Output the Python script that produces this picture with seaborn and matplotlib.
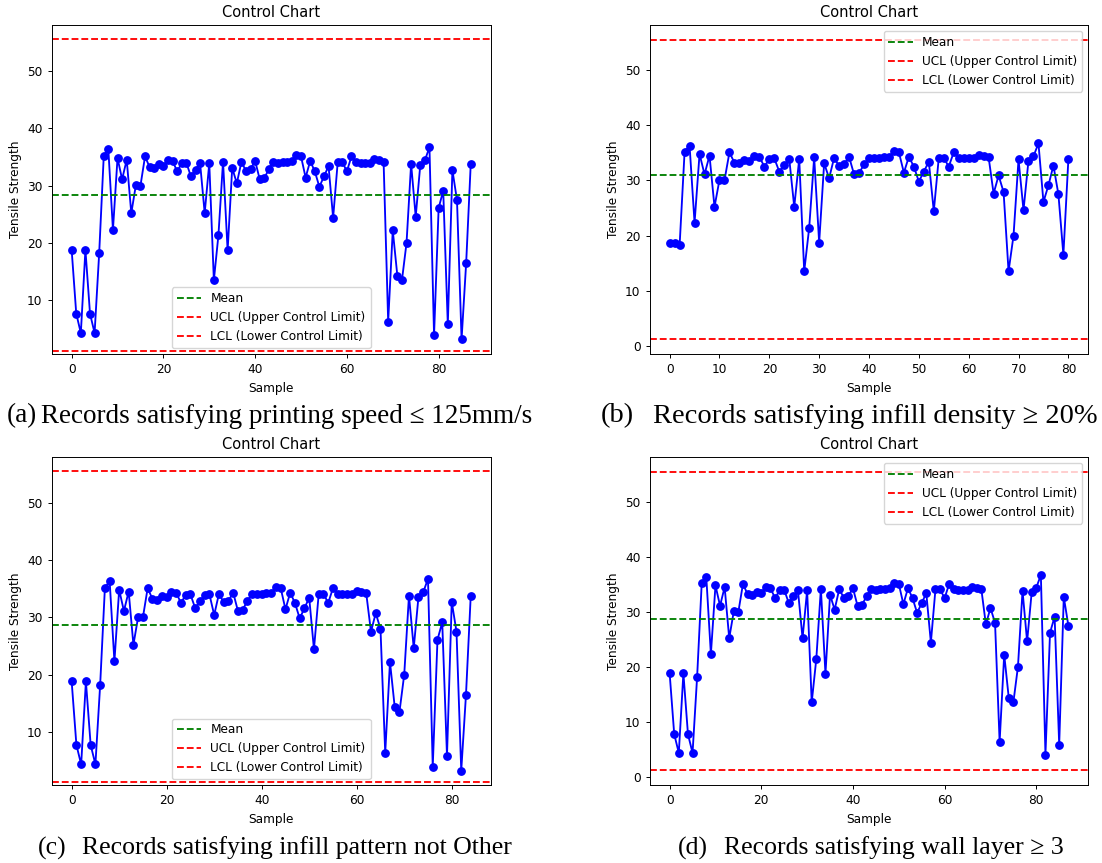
import numpy as np
import pandas as pd
import matplotlib
matplotlib.use("Agg")
import matplotlib.pyplot as plt
import seaborn as sns

# ---------------- data ----------------
strength_a = [18.8, 7.7, 4.3, 18.8, 7.7, 4.3, 18.2, 35.2, 36.3, 22.3,
              34.8, 31.1, 34.5, 25.2, 30.1, 30.0, 35.1, 33.2, 33.1, 33.7,
              33.5, 34.5, 34.3, 32.5, 33.9, 34.0, 31.6, 32.8, 33.9, 25.2,
              33.9, 13.5, 21.4, 34.2, 18.7, 33.1, 30.4, 34.1, 32.6, 32.9,
              34.3, 31.1, 31.3, 32.9, 34.1, 34.0, 34.1, 34.2, 34.3, 35.3,
              35.1, 31.4, 34.3, 32.5, 29.8, 31.6, 33.4, 24.4, 34.1, 34.1,
              32.5, 35.1, 34.1, 34.0, 34.0, 34.0, 34.6, 34.4, 34.2, 6.3,
              22.2, 14.3, 13.5, 20.0, 33.8, 24.6, 33.6, 34.4, 36.7, 3.9,
              26.1, 29.1, 5.8, 32.7, 27.5, 3.2, 16.5, 33.8]

strength_b = [18.7, 18.7, 18.2, 35.2, 36.3, 22.3, 34.8, 31.1, 34.5, 25.2,
              30.1, 30.0, 35.1, 33.2, 33.1, 33.7, 33.5, 34.5, 34.3, 32.5,
              33.9, 34.0, 31.6, 32.8, 33.9, 25.2, 33.9, 13.5, 21.4, 34.2,
              18.7, 33.1, 30.4, 34.1, 32.6, 32.9, 34.3, 31.1, 31.3, 32.9,
              34.1, 34.0, 34.1, 34.2, 34.3, 35.3, 35.1, 31.4, 34.3, 32.5,
              29.8, 31.6, 33.4, 24.4, 34.1, 34.1, 32.5, 35.1, 34.1, 34.0,
              34.0, 34.0, 34.6, 34.4, 34.2, 27.6, 30.9, 27.9, 13.5, 20.0,
              33.8, 24.6, 33.6, 34.4, 36.7, 26.1, 29.1, 32.7, 27.5, 16.5,
              33.8]

strength_c = [18.8, 7.7, 4.3, 18.8, 7.7, 4.3, 18.2, 35.2, 36.3, 22.3,
              34.8, 31.1, 34.5, 25.2, 30.1, 30.0, 35.1, 33.2, 33.1, 33.7,
              33.5, 34.5, 34.3, 32.5, 33.9, 34.0, 31.6, 32.8, 33.9, 34.0,
              30.4, 34.1, 32.6, 32.9, 34.3, 31.1, 31.3, 32.9, 34.1, 34.0,
              34.1, 34.2, 34.3, 35.3, 35.1, 31.4, 34.3, 32.5, 29.8, 31.6,
              33.4, 24.4, 34.1, 34.1, 32.5, 35.1, 34.1, 34.0, 34.0, 34.0,
              34.6, 34.4, 34.2, 27.5, 30.7, 28.0, 6.3, 22.2, 14.3, 13.5,
              20.0, 33.8, 24.6, 33.6, 34.4, 36.7, 3.9, 26.1, 29.1, 5.8,
              32.7, 27.5, 3.2, 16.5, 33.8]

strength_d = [18.8, 7.7, 4.3, 18.8, 7.7, 4.3, 18.2, 35.2, 36.3, 22.3,
              34.8, 31.1, 34.5, 25.2, 30.1, 30.0, 35.1, 33.2, 33.1, 33.7,
              33.5, 34.5, 34.3, 32.5, 33.9, 34.0, 31.6, 32.8, 33.9, 25.2,
              33.9, 13.5, 21.4, 34.2, 18.7, 33.1, 30.4, 34.1, 32.6, 32.9,
              34.3, 31.1, 31.3, 32.9, 34.1, 34.0, 34.1, 34.2, 34.3, 35.3,
              35.1, 31.4, 34.3, 32.5, 29.8, 31.6, 33.4, 24.4, 34.1, 34.1,
              32.5, 35.1, 34.1, 34.0, 34.0, 34.0, 34.6, 34.4, 34.2, 27.7,
              30.7, 28.0, 6.3, 22.2, 14.3, 13.5, 20.0, 33.8, 24.6, 33.6,
              34.4, 36.7, 4.0, 26.2, 29.1, 5.8, 32.7, 27.5]

mean_values = [28.3, 30.95, 28.65, 28.65]
ucl_value = 55.5
lcl_value = 1.2

caption_labels = ["(a)", "(b)", "(c)", "(d)"]
caption_texts = ["Records satisfying printing speed \u2264 125mm/s",
                 "Records satisfying infill density \u2265 20%",
                 "Records satisfying infill pattern not Other",
                 "Records satisfying wall layer \u2265 3"]

xticks_sets = [[0, 20, 40, 60, 80], [0, 10, 20, 30, 40, 50, 60, 70, 80],
               [0, 20, 40, 60, 80], [0, 20, 40, 60, 80]]
yticks_sets = [[10, 20, 30, 40, 50], [0, 10, 20, 30, 40, 50],
               [10, 20, 30, 40, 50], [0, 10, 20, 30, 40, 50]]

# ---------------- style ----------------
plt.rcParams.update({
    "font.family": ["DejaVu Sans"],
    "font.size": 8.7,
    "axes.titlesize": 10.5,
    "axes.labelsize": 8.7,
    "xtick.labelsize": 8.7,
    "ytick.labelsize": 8.7,
    "legend.fontsize": 8.7,
    "axes.linewidth": 0.7,
    "xtick.major.size": 3.1,
    "ytick.major.size": 3.1,
    "xtick.major.width": 0.7,
    "ytick.major.width": 0.7,
    "lines.linewidth": 1.33,
})

W, H = 1102, 863
fig = plt.figure(figsize=(W / 100, H / 100), dpi=100)

# axes boxes in pixels: left, top, right, bottom
boxes = [(51.7, 25.0, 490.7, 354.0), (649.7, 25.0, 1088.3, 354.0),
         (51.7, 457.0, 490.7, 785.3), (649.7, 457.0, 1088.3, 785.3)]
ylims = [(0.65, 58.0), (-1.5, 58.2), (0.65, 58.0), (-1.6, 58.2)]
legend_locs = ["lower center", "upper right", "lower center", "upper right"]
# (label left x, text right x, y centre, font size) in pixels / points
caption_pos = [(7, 532, 416, 19.5), (601, 1098, 416, 20.5),
               (38, 512, 848, 18.5), (678, 1064, 848, 18.5)]

series = [strength_a, strength_b, strength_c, strength_d]
serif = ["Liberation Serif", "DejaVu Serif"]

for i, vals in enumerate(series):
    l, t, r, b = boxes[i]
    ax = fig.add_axes([l / W, 1 - b / H, (r - l) / W, (b - t) / H])
    df = pd.DataFrame({"Sample": np.arange(len(vals)), "Tensile Strength": vals})
    sns.lineplot(data=df, x="Sample", y="Tensile Strength", ax=ax,
                 color="blue", marker="o", markersize=5.3,
                 markeredgecolor="blue", markeredgewidth=1.0,
                 linewidth=1.33)
    h1 = ax.axhline(mean_values[i], color="green", linestyle="--", label="Mean")
    h2 = ax.axhline(ucl_value, color="red", linestyle="--",
                    label="UCL (Upper Control Limit)")
    h3 = ax.axhline(lcl_value, color="red", linestyle="--",
                    label="LCL (Lower Control Limit)")
    ax.set_title("Control Chart")
    ax.set_xlabel("Sample")
    ax.set_ylabel("Tensile Strength")
    ax.set_xticks(xticks_sets[i])
    ax.set_yticks(yticks_sets[i])
    ax.set_ylim(*ylims[i])
    ax.legend(handles=[h1, h2, h3], loc=legend_locs[i])
    lx, rx, cy, fs = caption_pos[i]
    fig.text(lx / W, 1 - cy / H, caption_labels[i], ha="left", va="center",
             fontsize=fs, family=serif)
    fig.text(rx / W, 1 - cy / H, caption_texts[i], ha="right", va="center",
             fontsize=fs, family=serif)

fig.savefig("out.png", dpi=100)
